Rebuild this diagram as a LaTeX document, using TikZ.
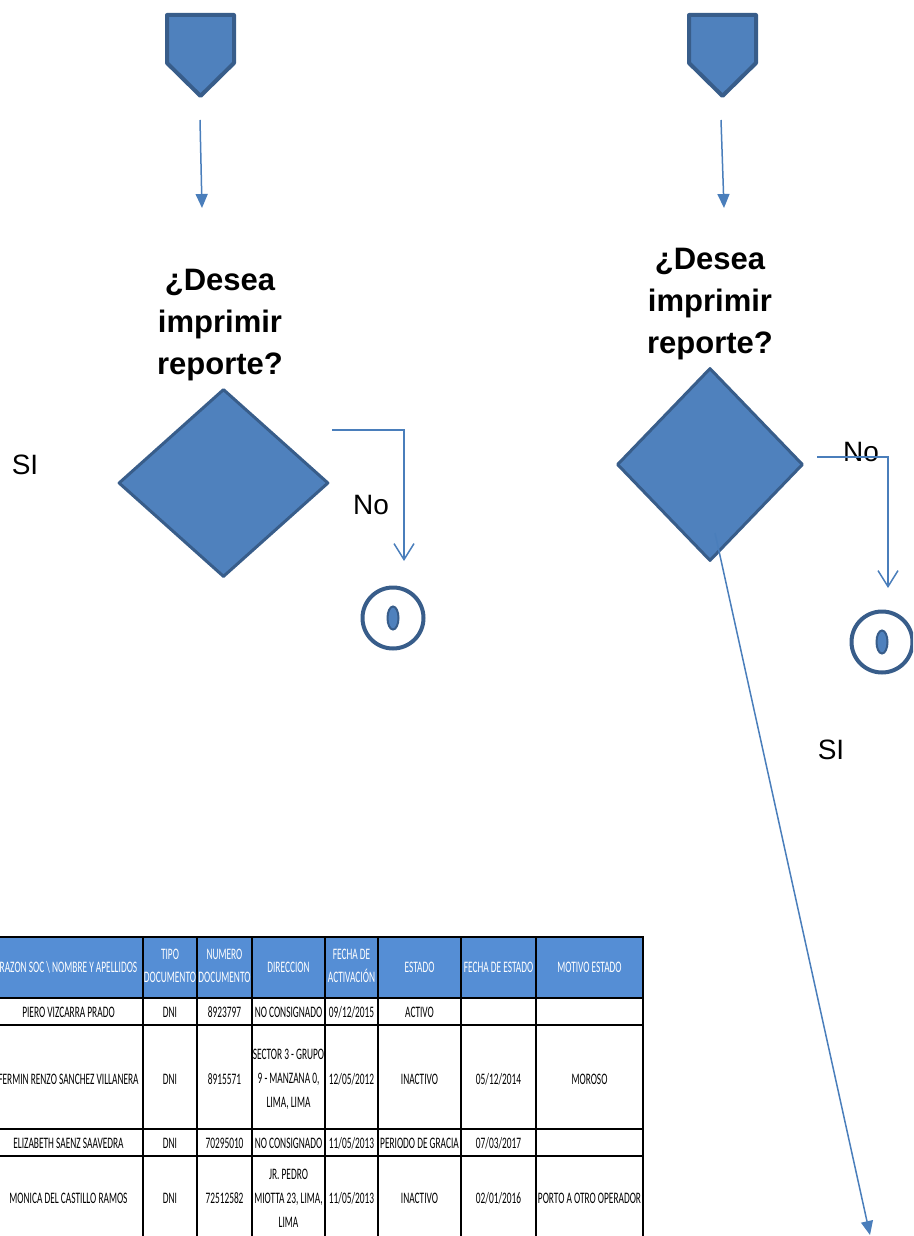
\documentclass[tikz,border=0pt]{standalone}
\usepackage{fontspec}
\setmainfont{Liberation Sans}
\newfontfamily\tablefont[FakeStretch=0.585]{Carlito}
\usetikzlibrary{arrows.meta,shapes.geometric}

\definecolor{shapefill}{HTML}{4F81BD}
\definecolor{shapeline}{HTML}{385D8A}
\definecolor{linkblue}{HTML}{4A7EBB}
\definecolor{headfill}{HTML}{558ED5}

\tikzset{
  offpage/.style={fill=shapefill, draw=shapeline, line width=4pt, line join=round},
  decision/.style={diamond, fill=shapefill, draw=shapeline, line width=3pt,
                   inner sep=0pt, line join=round},
  endcircle/.style={circle, fill=white, draw=shapeline, line width=4pt,
                    minimum size=61pt, inner sep=0pt},
  endeye/.style={ellipse, fill=shapefill, draw=shapeline, line width=2pt,
                 minimum width=11pt, minimum height=23pt, inner sep=0pt},
  link/.style={draw=linkblue, line width=1.5pt},
  solidhead/.style={-{Triangle[width=12pt,length=14pt]}},
  openhead/.style={-{Straight Barb[width=20pt,length=16pt]}},
  question/.style={align=center, font=\fontsize{31}{42}\selectfont\bfseries, inner sep=0pt},
  answer/.style={font=\fontsize{28}{32}\selectfont, inner sep=0pt},
  tcell/.style={align=center, inner sep=0pt, font=\tablefont\fontsize{16}{24}\selectfont},
  thead/.style={tcell, text=white, font=\tablefont\fontsize{16}{23}\selectfont},
  rowline/.style={line width=2.5pt, draw=black},
  colline/.style={line width=1.2pt, draw=black}
}

\begin{document}
\begin{tikzpicture}[x=1pt,y=-1pt]
\useasboundingbox (0,0) rectangle (913,1236);
\clip (0,0) rectangle (913,1236);

% ---------- left branch ----------
\draw[offpage] (167,15) -- (234,15) -- (234,63) -- (200.5,96) -- (167,63) -- cycle;
\coordinate (a1) at (200,120);
\coordinate (a2) at (202,208);
\draw[link,solidhead] (a1) -- (a2);

\node[question] (q1) at (220,325) {¿Desea\\imprimir\\reporte?};
\node[decision, minimum width=210pt, minimum height=188pt] (d1) at (223.5,483) {};

\coordinate (n1s) at (332,430);
\coordinate (n1e) at (404,561);
\draw[link,openhead] (n1s) -| (n1e);
\node[answer] (no1) at (371,505) {No};
\node[answer] (si1) at (25,465) {SI};

\node[endcircle] (e1) at (393,618) {};
\node[endeye] (e1i) at (e1) {};

% ---------- right branch ----------
\draw[offpage] (689,15) -- (756,15) -- (756,63) -- (722.5,96) -- (689,63) -- cycle;
\coordinate (b1) at (721,120);
\coordinate (b2) at (724,208);
\draw[link,solidhead] (b1) -- (b2);

\node[question] (q2) at (710,304) {¿Desea\\imprimir\\reporte?};
\node[decision, minimum width=186pt, minimum height=193pt] (d2) at (710,464.5) {};

\node[answer] (no2) at (861,452) {No};
\coordinate (n2s) at (817,457);
\coordinate (n2e) at (888,588);
\draw[link,openhead] (n2s) -| (n2e);

\node[endcircle] (e2) at (882,642) {};
\node[endeye] (e2i) at (e2) {};

\node[answer] (si2) at (831,750) {SI};
\coordinate (s2s) at (715,533);
\coordinate (s2e) at (870,1235);
\draw[link,solidhead] (s2s) -- (s2e);

% ---------- report table ----------
\fill[headfill] (-6,937) rectangle (643,998);
\foreach \y in {937,998,1025,1129,1156}
  \draw[rowline] (-6,\y) -- (644,\y);
\foreach \x in {143,197,252,325,378,461,536,643}
  \draw[colline] (\x,937) -- (\x,1240);

% header
\node[thead] (h1) at (68.5,967) {RAZON SOC \textbackslash{} NOMBRE Y APELLIDOS};
\node[thead] (h2) at (170,966) {TIPO\\DOCUMENTO};
\node[thead] (h3) at (224.5,966) {NUMERO\\DOCUMENTO};
\node[thead] (h4) at (288.5,967) {DIRECCION};
\node[thead] (h5) at (351.5,966) {FECHA DE\\ACTIVACIÓN};
\node[thead] (h6) at (419.5,967) {ESTADO};
\node[thead] (h7) at (498.5,967) {FECHA DE ESTADO};
\node[thead] (h8) at (589.5,967) {MOTIVO ESTADO};

% row 1
\node[tcell] (r1c1) at (68.5,1012) {PIERO VIZCARRA PRADO};
\node[tcell] (r1c2) at (170,1012) {DNI};
\node[tcell] (r1c3) at (224.5,1012) {8923797};
\node[tcell] (r1c4) at (288.5,1012) {NO CONSIGNADO};
\node[tcell] (r1c5) at (351.5,1012) {09/12/2015};
\node[tcell] (r1c6) at (419.5,1012) {ACTIVO};

% row 2
\node[tcell] (r2c1) at (68.5,1079) {FERMIN RENZO SANCHEZ VILLANERA};
\node[tcell] (r2c2) at (170,1079) {DNI};
\node[tcell] (r2c3) at (224.5,1079) {8915571};
\node[tcell] (r2c4) at (288.5,1079) {SECTOR 3 - GRUPO\\9 - MANZANA 0,\\LIMA, LIMA};
\node[tcell] (r2c5) at (351.5,1079) {12/05/2012};
\node[tcell] (r2c6) at (419.5,1079) {INACTIVO};
\node[tcell] (r2c7) at (498.5,1079) {05/12/2014};
\node[tcell] (r2c8) at (589.5,1079) {MOROSO};

% row 3
\node[tcell] (r3c1) at (68.5,1143) {ELIZABETH SAENZ SAAVEDRA};
\node[tcell] (r3c2) at (170,1143) {DNI};
\node[tcell] (r3c3) at (224.5,1143) {70295010};
\node[tcell] (r3c4) at (288.5,1143) {NO CONSIGNADO};
\node[tcell] (r3c5) at (351.5,1143) {11/05/2013};
\node[tcell] (r3c6) at (419.5,1143) {PERIODO DE GRACIA};
\node[tcell] (r3c7) at (498.5,1143) {07/03/2017};

% row 4
\node[tcell] (r4c1) at (68.5,1198) {MONICA DEL CASTILLO RAMOS};
\node[tcell] (r4c2) at (170,1198) {DNI};
\node[tcell] (r4c3) at (224.5,1198) {72512582};
\node[tcell] (r4c4) at (288.5,1198) {JR. PEDRO\\MIOTTA 23, LIMA,\\LIMA};
\node[tcell] (r4c5) at (351.5,1198) {11/05/2013};
\node[tcell] (r4c6) at (419.5,1198) {INACTIVO};
\node[tcell] (r4c7) at (498.5,1198) {02/01/2016};
\node[tcell] (r4c8) at (589.5,1198) {PORTO A OTRO OPERADOR};
\end{tikzpicture}
\end{document}
